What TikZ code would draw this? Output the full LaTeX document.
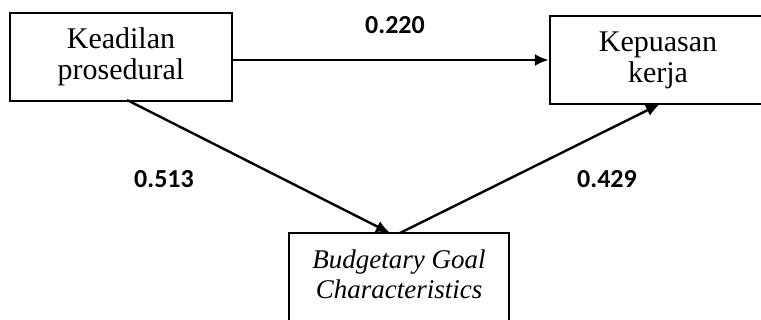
\documentclass[tikz,border=0pt]{standalone}
\usepackage{fontspec}
\setmainfont{Liberation Serif}
\newfontfamily\labfont{Carlito}
\usetikzlibrary{arrows.meta,calc}
\begin{document}
\begin{tikzpicture}[x=0.5pt,y=-0.5pt,
  varbox/.style={draw,line width=1.2pt,rectangle,inner sep=0pt,align=center,
    font=\fontsize{15}{15.5}\selectfont},
  conn/.style={line width=1.2pt,-{Latex[length=7pt,width=6pt]}},
  coef/.style={font=\labfont\bfseries\fontsize{13}{14}\selectfont}]
\clip (0,0) rectangle (761,320);
\node[varbox,minimum width=111pt,minimum height=44pt] (L) at (121,57) {Keadilan\\prosedural};
\node[varbox,minimum width=108pt,minimum height=44pt] (R) at (658,60) {Kepuasan\\kerja};
\node[varbox,minimum width=110pt,minimum height=44pt] (B) at (399,277)
  {\raisebox{2.5pt}{\fontsize{13.5}{15}\selectfont\itshape\begin{tabular}{@{}c@{}}Budgetary Goal\\Characteristics\end{tabular}}};
\coordinate (Hy) at (0,60);
\coordinate (Ls) at (127,100);
\coordinate (Bn1) at (390,233);
\coordinate (Bn2) at (400,233);
\coordinate (Rs) at (660,104);
\draw[conn] (L.east |- Hy) -- (R.west |- Hy);
\draw[conn] (Ls) -- (Bn1);
\draw[conn] (Bn2) -- (Rs);
\node[coef] (c1) at (395,25) {0.220};
\node[coef] (c2) at (164,179) {0.513};
\node[coef] (c3) at (607,179) {0.429};
\end{tikzpicture}
\end{document}
